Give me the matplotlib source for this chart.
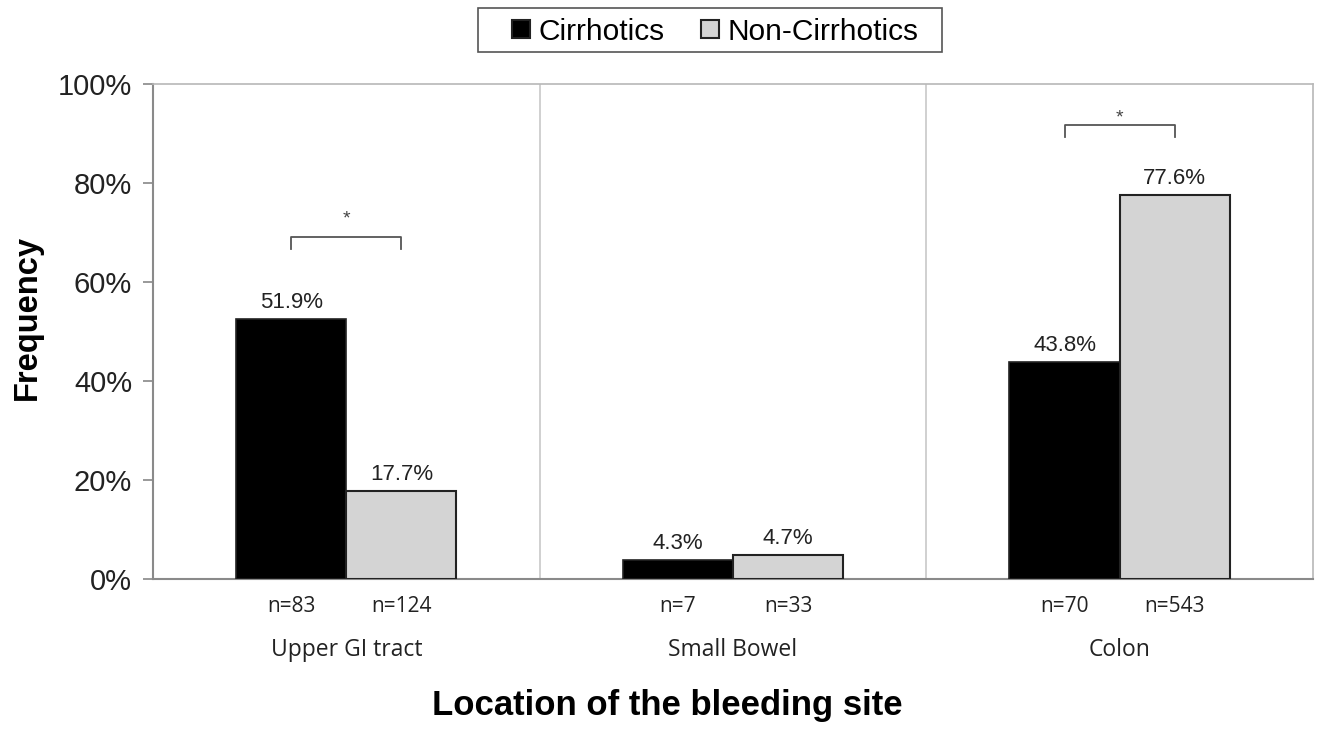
### ---- Loading required libraries
import matplotlib.pyplot as plt
from matplotlib.patches import Rectangle
from matplotlib.lines import Line2D
import numpy as np

### ---- Data
sites = ["Upper GI tract", "Small Bowel", "Colon"]
groups = ["Cirrhotics", "Non-Cirrhotics"]
cirrhotics = [52.5, 3.8, 43.8]          # bar heights
non_cirrhotics = [17.7, 4.8, 77.6]
cirr_labels = ["51.9%", "4.3%", "43.8%"]
non_labels = ["17.7%", "4.7%", "77.6%"]
cirr_n = ["n=83", "n=7", "n=70"]
non_n = ["n=124", "n=33", "n=543"]
# significance brackets: (site index, bracket height, star height)
signif = [(0, 69.0, 72.7), (2, 91.7, 93.1)]

### ---- Figure setup
plt.rcParams['font.family'] = ['Liberation Sans', 'DejaVu Sans']
fig = plt.figure(figsize=(13.21, 7.31), dpi=100)
ax = fig.add_axes([0.1158, 0.208, 0.8781, 0.677])

x = np.arange(len(sites))
w = 0.285

ax.bar(x - w / 2, cirrhotics, w, color="black", edgecolor="#222222",
       linewidth=1.2, zorder=3)
ax.bar(x + w / 2, non_cirrhotics, w, color="#d4d4d4", edgecolor="#222222",
       linewidth=1.5, zorder=3)

# value labels above bars
for i in range(len(sites)):
    ax.text(x[i] - w / 2, cirrhotics[i] + 1.2, cirr_labels[i], ha="center",
            va="bottom", fontsize=16, color="#222222")
    ax.text(x[i] + w / 2, non_cirrhotics[i] + 1.2, non_labels[i], ha="center",
            va="bottom", fontsize=16, color="#222222")

# n labels and category names below the axis
for i in range(len(sites)):
    ax.text(x[i] - w / 2, -5.6, cirr_n[i], ha="center", va="center",
            fontsize=15, family="Open Sans", color="#222222")
    ax.text(x[i] + w / 2, -5.6, non_n[i], ha="center", va="center",
            fontsize=15, family="Open Sans", color="#222222")
    ax.text(x[i], -14.4, sites[i], ha="center", va="center",
            fontsize=16.5, family="Open Sans", color="#222222")

# significance brackets
for i, h, hs in signif:
    x0, x1 = x[i] - w / 2, x[i] + w / 2
    ax.plot([x0, x0, x1, x1], [h - 2.4, h, h, h - 2.4], color="#555555",
            linewidth=1.3, zorder=4)
    ax.text(x[i], hs, "*", ha="center", va="center", fontsize=14,
            color="#444444")

# separators between sites
for s in [0.5, 1.5]:
    ax.axvline(s, color="#c8c8c8", linewidth=1.2, zorder=1)

### ---- Axes styling
ax.set_xlim(-0.5, 2.5)
ax.set_ylim(0, 100)
ax.set_yticks(range(0, 101, 20))
ax.set_yticklabels([f"{v}%" for v in range(0, 101, 20)], fontsize=21,
                   color="#222222")
ax.set_xticks([])
ax.tick_params(axis="y", length=7, width=1.2, color="#888888", pad=8)
for side in ["left", "bottom"]:
    ax.spines[side].set_color("#8a8a8a")
    ax.spines[side].set_linewidth(1.5)
for side in ["top", "right"]:
    ax.spines[side].set_color("#b8b8b8")
    ax.spines[side].set_linewidth(1.2)

fig.text(0.0204, 0.565, "Frequency", rotation=90, ha="center", va="center",
         fontsize=23.5, fontweight="bold")
fig.text(0.5053, 0.035, "Location of the bleeding site", ha="center",
         va="center", fontsize=25, fontweight="bold")

### ---- Legend (frame drawn separately, Excel style)
handles = [Line2D([], [], ls="none", marker="s", markersize=13,
                  markerfacecolor=c, markeredgecolor="#222222",
                  markeredgewidth=1.5) for c in ["black", "#d4d4d4"]]
leg = fig.legend(handles, groups, loc="center",
                 bbox_to_anchor=(0.5405, 0.9565), ncol=2, fontsize=21.5,
                 frameon=False, handlelength=0.75, handletextpad=0.2,
                 columnspacing=1.15, borderpad=0.2)
fig.add_artist(Rectangle((0.3618, 0.9289), 0.3512, 0.0602,
                         transform=fig.transFigure, fill=False,
                         edgecolor="#555555", linewidth=1.2))

plt.savefig("out.png", dpi=100)
